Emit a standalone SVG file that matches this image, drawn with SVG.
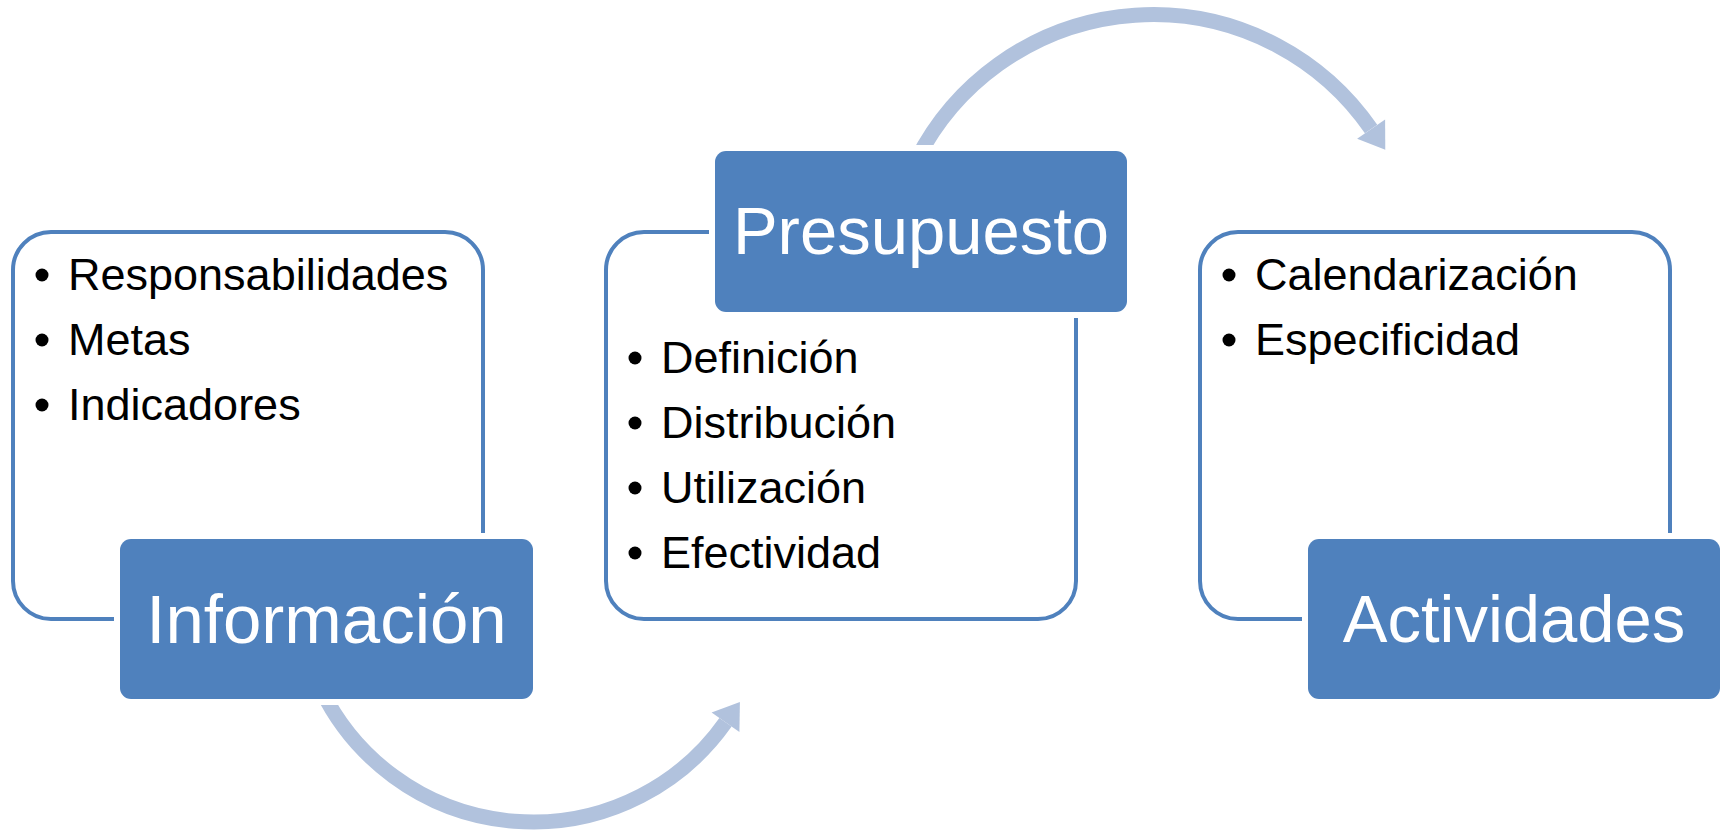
<svg xmlns="http://www.w3.org/2000/svg" width="1727" height="831" viewBox="0 0 1727 831">
<style>
.frame{fill:#FFFFFF;stroke:#4F81BD;stroke-width:4}
.halo{fill:#FFFFFF;stroke:none}
.head{fill:#4F81BD;stroke:none}
.title{font-family:"Liberation Sans",Arial,sans-serif;font-size:67px;fill:#FFFFFF;text-anchor:middle}
.item{font-family:"Liberation Sans",Arial,sans-serif;font-size:45px;fill:#000000}
.dot{fill:#000000}
.arc{fill:none;stroke:#B1C2DD;stroke-width:15}
.tip{fill:#B1C2DD;stroke:none}
</style>
<rect width="1727" height="831" fill="#FFFFFF"/>
<g id="connectors">
<path class="arc" d="M 321.4 690 A 235.6 235.6 0 0 0 725.5 722.3"/>
<polygon class="tip" points="711.6,712.5 739.9,701.9 739.4,732.1"/>
<path class="arc" d="M 916.5 160 A 265 265 0 0 1 1371.1 129.1"/>
<polygon class="tip" points="1385.1,119.4 1385.3,149.7 1357.1,138.8"/>
</g>
<g id="informacion">
<rect class="frame" x="13" y="232" width="470" height="387" rx="38"/>
<circle class="dot" cx="42" cy="275" r="6.5"/>
<text class="item" x="68" y="290">Responsabilidades</text>
<circle class="dot" cx="42" cy="340" r="6.5"/>
<text class="item" x="68" y="355">Metas</text>
<circle class="dot" cx="42" cy="405" r="6.5"/>
<text class="item" x="68" y="420">Indicadores</text>
<rect class="halo" x="114" y="533" width="425" height="172" rx="16"/>
<rect class="head" x="120" y="539" width="413" height="160" rx="11"/>
<text class="title" x="326.5" y="643" style="font-size:69px">Información</text>
</g>
<g id="presupuesto">
<rect class="frame" x="606" y="232" width="470" height="387" rx="38"/>
<circle class="dot" cx="635" cy="358" r="6.5"/>
<text class="item" x="661" y="373">Definición</text>
<circle class="dot" cx="635" cy="423" r="6.5"/>
<text class="item" x="661" y="438">Distribución</text>
<circle class="dot" cx="635" cy="488" r="6.5"/>
<text class="item" x="661" y="503">Utilización</text>
<circle class="dot" cx="635" cy="553" r="6.5"/>
<text class="item" x="661" y="568">Efectividad</text>
<rect class="halo" x="709" y="145" width="424" height="173" rx="16"/>
<rect class="head" x="715" y="151" width="412" height="161" rx="11"/>
<text class="title" x="921" y="254">Presupuesto</text>
</g>
<g id="actividades">
<rect class="frame" x="1200" y="232" width="470" height="387" rx="38"/>
<circle class="dot" cx="1229" cy="275" r="6.5"/>
<text class="item" x="1255" y="290">Calendarización</text>
<circle class="dot" cx="1229" cy="340" r="6.5"/>
<text class="item" x="1255" y="355">Especificidad</text>
<rect class="halo" x="1302" y="533" width="424" height="172" rx="16"/>
<rect class="head" x="1308" y="539" width="412" height="160" rx="11"/>
<text class="title" x="1514" y="642">Actividades</text>
</g>
</svg>
